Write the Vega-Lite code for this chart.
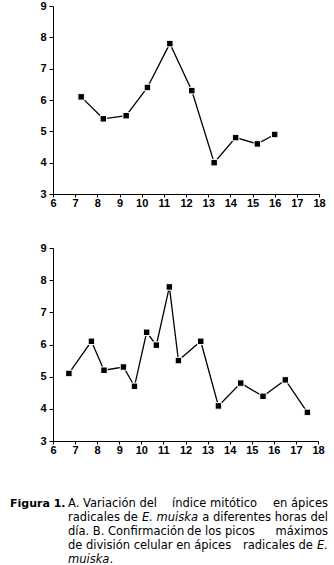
{
  "$schema": "https://vega.github.io/schema/vega-lite/v6.json",
  "padding": {"left": 10, "top": 0, "right": 0, "bottom": 0},
  "background": "white",
  "spacing": 34,
  "config": {
    "view": {"stroke": null},
    "axis": {
      "grid": false,
      "domainColor": "black",
      "tickColor": "black",
      "labelColor": "black",
      "labelFont": "Liberation Sans",
      "labelFontSize": 11,
      "labelFontWeight": "bold",
      "labelFlush": false,
      "labelOverlap": false,
      "title": null
    },
    "axisX": {"tickSize": 3, "labelPadding": 0},
    "axisY": {"tickSize": 4, "labelPadding": 3},
    "text": {"font": "DejaVu Sans", "fontSize": 11.5, "color": "black", "baseline": "middle"}
  },
  "datasets": {
    "A": [
      {"hora": 7.27, "indice": 6.1},
      {"hora": 8.27, "indice": 5.4},
      {"hora": 9.3, "indice": 5.5},
      {"hora": 10.26, "indice": 6.4},
      {"hora": 11.27, "indice": 7.8},
      {"hora": 12.26, "indice": 6.3},
      {"hora": 13.27, "indice": 4.0},
      {"hora": 14.24, "indice": 4.8},
      {"hora": 15.22, "indice": 4.6},
      {"hora": 16.0, "indice": 4.9}
    ],
    "B": [
      {"hora": 6.72, "indice": 5.1},
      {"hora": 7.74, "indice": 6.1},
      {"hora": 8.31, "indice": 5.2},
      {"hora": 9.19, "indice": 5.3},
      {"hora": 9.69, "indice": 4.7},
      {"hora": 10.24, "indice": 6.38},
      {"hora": 10.68, "indice": 5.98},
      {"hora": 11.27, "indice": 7.79},
      {"hora": 11.68, "indice": 5.5},
      {"hora": 12.69, "indice": 6.1},
      {"hora": 13.49, "indice": 4.09},
      {"hora": 14.5, "indice": 4.8},
      {"hora": 15.51, "indice": 4.39},
      {"hora": 16.52, "indice": 4.9},
      {"hora": 17.52, "indice": 3.89}
    ],
    "caption": [
      {"line": 1, "part": "b", "text": "Figura 1."},
      {"line": 1, "part": "L", "text": "A. Variación del"},
      {"line": 1, "part": "m174", "text": "índice mitótico"},
      {"line": 1, "part": "R", "text": "en ápices"},
      {"line": 2, "part": "L", "text": "radicales de"},
      {"line": 2, "part": "i143", "text": "E. muiska"},
      {"line": 2, "part": "R", "text": "a diferentes horas del"},
      {"line": 3, "part": "L", "text": "día. B. Confirmación"},
      {"line": 3, "part": "m189", "text": "de los picos"},
      {"line": 3, "part": "R", "text": "máximos"},
      {"line": 4, "part": "L", "text": "de división celular en ápices"},
      {"line": 4, "part": "m244", "text": "radicales de"},
      {"line": 4, "part": "iR", "text": "E."},
      {"line": 5, "part": "iL", "text": "muiska"},
      {"line": 5, "part": "dot", "text": "."}
    ]
  },
  "vconcat": [
    {
      "width": 266,
      "height": 188,
      "data": {"name": "A"},
      "encoding": {
        "x": {"field": "hora", "type": "quantitative", "scale": {"domain": [6, 18], "nice": false, "zero": false}, "axis": {"values": [6,7,8,9,10,11,12,13,14,15,16,17,18]}},
        "y": {"field": "indice", "type": "quantitative", "scale": {"domain": [3, 9], "nice": false, "zero": false}, "axis": {"values": [3,4,5,6,7,8,9]}}
      },
      "layer": [
        {"mark": {"type": "line", "color": "black", "strokeWidth": 1.3}},
        {"mark": {"type": "point", "shape": "square", "filled": true, "size": 42, "color": "black", "opacity": 1, "stroke": "white", "strokeWidth": 1}}
      ]
    },
    {
      "width": 265,
      "height": 193,
      "data": {"name": "B"},
      "encoding": {
        "x": {"field": "hora", "type": "quantitative", "scale": {"domain": [6, 18], "nice": false, "zero": false}, "axis": {"values": [6,7,8,9,10,11,12,13,14,15,16,17,18]}},
        "y": {"field": "indice", "type": "quantitative", "scale": {"domain": [3, 9], "nice": false, "zero": false}, "axis": {"values": [3,4,5,6,7,8,9]}}
      },
      "layer": [
        {"mark": {"type": "line", "color": "black", "strokeWidth": 1.3}},
        {"mark": {"type": "point", "shape": "square", "filled": true, "size": 42, "color": "black", "opacity": 1, "stroke": "white", "strokeWidth": 1}}
      ]
    },
    {
      "width": 265,
      "height": 86,
      "data": {"name": "caption"},
      "encoding": {
        "y": {"field": "line", "type": "quantitative", "scale": {"domain": [-0.021, 6.021], "reverse": true, "nice": false, "zero": false}, "axis": null},
        "text": {"field": "text"}
      },
      "layer": [
        {"transform": [{"filter": "datum.part === 'b'"}], "mark": {"type": "text", "align": "left", "fontWeight": "bold", "fontSize": 11, "x": -43}},
        {"transform": [{"filter": "datum.part === 'L'"}], "mark": {"type": "text", "align": "left", "x": 15}},
        {"transform": [{"filter": "datum.part === 'R'"}], "mark": {"type": "text", "align": "right", "x": 275}},
        {"transform": [{"filter": "datum.part === 'm174'"}], "mark": {"type": "text", "align": "left", "x": 119}},
        {"transform": [{"filter": "datum.part === 'm189'"}], "mark": {"type": "text", "align": "left", "x": 134}},
        {"transform": [{"filter": "datum.part === 'm244'"}], "mark": {"type": "text", "align": "left", "x": 190}},
        {"transform": [{"filter": "datum.part === 'i143'"}], "mark": {"type": "text", "align": "left", "fontStyle": "italic", "x": 89}},
        {"transform": [{"filter": "datum.part === 'iR'"}], "mark": {"type": "text", "align": "right", "fontStyle": "italic", "x": 275}},
        {"transform": [{"filter": "datum.part === 'iL'"}], "mark": {"type": "text", "align": "left", "fontStyle": "italic", "x": 15}},
        {"transform": [{"filter": "datum.part === 'dot'"}], "mark": {"type": "text", "align": "left", "x": 56.5}}
      ]
    }
  ]
}
